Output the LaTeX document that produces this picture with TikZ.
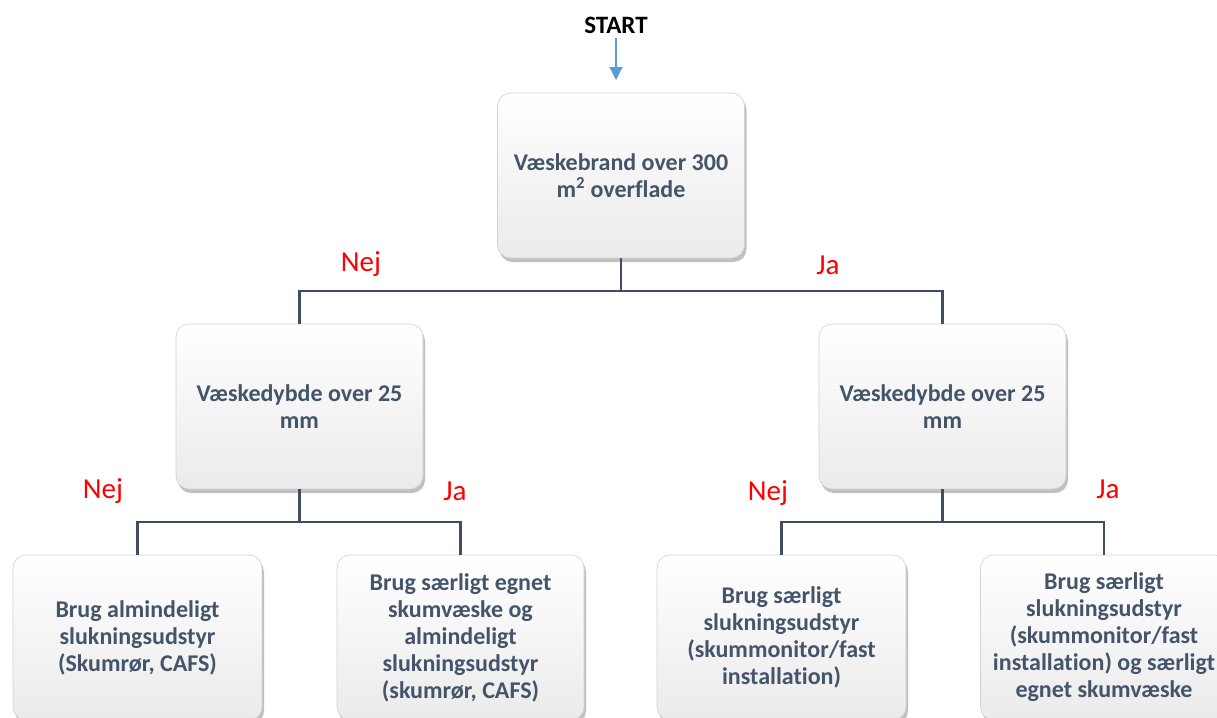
\documentclass[tikz,border=0pt]{standalone}
\usepackage{fontspec}
\setmainfont{Carlito}[Ligatures=NoCommon]
\usetikzlibrary{shadows,arrows.meta}
\definecolor{txt}{HTML}{44546A}
\definecolor{ln}{HTML}{3F4E63}
\definecolor{arr}{HTML}{5B9BD5}
\tikzset{
  box/.style={rounded corners=13pt, draw=gray!35, line width=0.6pt,
    top color=white, bottom color=gray!16, minimum width=247pt, minimum height=165pt,
    font=\bfseries\fontsize{24}{27}\selectfont, text=txt, align=center, inner sep=0pt,
    drop shadow={shadow xshift=2pt, shadow yshift=-4pt, fill=black!55, opacity=0.45}},
  conn/.style={draw=ln, line width=2.5pt},
  lab/.style={text=red, font=\fontsize{29}{32}\selectfont, inner sep=0pt}
}
\begin{document}
\begin{tikzpicture}[x=1pt,y=-1pt]
\useasboundingbox (0,0) rectangle (1217,717);
\clip (0,0) rectangle (1217,717);
\node[font=\bfseries\fontsize{25}{28}\selectfont, inner sep=0pt] (start) at (616,25) {START};
\coordinate (ah) at (616,38);
\coordinate (at) at (616,80);
\draw[arr, line width=1.2pt, -{Triangle[length=13pt,width=13pt]}] (ah) -- (at);

\node[box] (top) at (621,175.5) {Væskebrand over 300\\m\textsuperscript{2} overflade};
\node[box] (ml) at (299.5,406.5) {Væskedybde over 25\\mm};
\node[box] (mr) at (942.5,406.5) {Væskedybde over 25\\mm};
\node[box, minimum width=249pt] (b1) at (137.5,637.5) {Brug almindeligt\\slukningsudstyr\\(Skumrør, CAFS)};
\node[box] (b2) at (460.5,637.5) {Brug særligt egnet\\skumvæske og\\almindeligt\\slukningsudstyr\\(skumrør, CAFS)};
\node[box, minimum width=249pt] (b3) at (781.5,637.5) {Brug særligt\\slukningsudstyr\\(skummonitor/fast\\installation)};
\node[box] (b4) at (1104,637.5) {Brug særligt\\slukningsudstyr\\(skummonitor/fast\\installation) og særligt\\egnet skumvæske};

\coordinate (j1) at (621,291);
\draw[conn] (top.south) -- (j1);
\draw[conn] (ml.north) |- (j1) -| (mr.north);

\coordinate (j2) at (299.5,522);
\draw[conn] (ml.south) -- (j2);
\draw[conn] (b1.north) |- (j2) -| (b2.north);

\coordinate (j3) at (942.5,522);
\draw[conn] (mr.south) -- (j3);
\draw[conn] (b3.north) |- (j3) -| (b4.north);

\node[lab] (n1) at (361,264) {Nej};
\node[lab] (y1) at (828,265) {Ja};
\node[lab] (n2) at (103,491) {Nej};
\node[lab] (y2) at (455,491) {Ja};
\node[lab] (n3) at (768,493) {Nej};
\node[lab] (y3) at (1108,489) {Ja};
\end{tikzpicture}
\end{document}
